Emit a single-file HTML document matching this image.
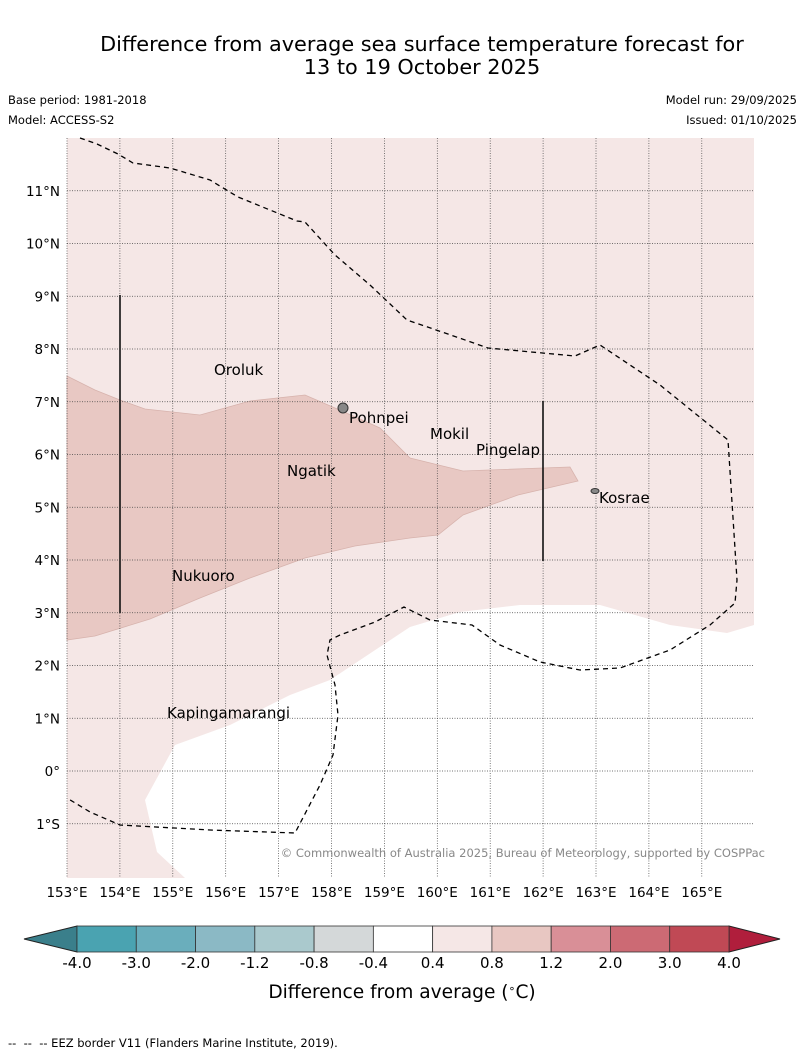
<!DOCTYPE html>
<html><head><meta charset="utf-8"><style>
body{margin:0;background:#fff;font-family:"DejaVu Sans","Liberation Sans",sans-serif;}
svg text{font-family:"DejaVu Sans","Liberation Sans",sans-serif;white-space:pre;}
</style></head><body>
<svg id="chart" width="804" height="1058" xmlns="http://www.w3.org/2000/svg" xml:space="preserve">
<text x="422" y="51" font-size="20.8" text-anchor="middle">Difference from average sea surface temperature forecast for</text>
<text x="422" y="74" font-size="20.8" text-anchor="middle">13 to 19 October 2025</text>
<text x="8" y="104" font-size="11.5">Base period: 1981-2018</text>
<text x="8" y="124" font-size="11.5">Model: ACCESS-S2</text>
<text x="797" y="104" font-size="11.5" text-anchor="end">Model run: 29/09/2025</text>
<text x="797" y="124" font-size="11.5" text-anchor="end">Issued: 01/10/2025</text>
<g id="map">
<rect x="67" y="138" width="687" height="740" fill="#f5e7e6"/>
<polygon fill="#ffffff" points="754,625 727,633 670,625 600,605 520,605 460,612 410,627 330,680 290,695 230,725 175,745 145,800 157,852 185,878 754,878"/>
<polygon fill="#e8c8c3" stroke="#d7b3ad" stroke-width="0.8" points="67,376 95,390 120,400 145,409 200,415 250,401 305,395 335,408 380,428 410,458 463,471 570,467 578,481 518,495 463,515 438,535 410,538 355,546 305,558 250,578 200,598 150,619 95,636 67,640"/>
<g id="grid"></g>
<polyline fill="none" stroke="#000" stroke-width="1.3" stroke-dasharray="5,4" points="80,138 97,144 118,154 133,163 170,168 210,180 238,197 270,210 297,221 305,222 335,255 370,285 407,320 445,333 488,348 575,356 600,345 660,385 728,440 737,580 735,603 710,625 670,650 620,668 580,670 540,662 500,645 472,625 430,620 404,607 375,622 340,635 330,640 327,655 335,685 338,715 333,755 320,785 295,833 210,830 120,825 90,812 67,798"/>
<line x1="120" y1="295" x2="120" y2="613" stroke="#111" stroke-width="1.6"/>
<line x1="543" y1="401" x2="543" y2="561" stroke="#111" stroke-width="1.6"/>
<circle cx="343" cy="408" r="5" fill="#888" stroke="#333"/>
<ellipse cx="595" cy="491" rx="4" ry="2.5" fill="#888" stroke="#333"/>
<text x="214" y="375" font-size="15">Oroluk</text>
<text x="349" y="423" font-size="15">Pohnpei</text>
<text x="430" y="439" font-size="15">Mokil</text>
<text x="476" y="455" font-size="15">Pingelap</text>
<text x="287" y="476" font-size="15">Ngatik</text>
<text x="599" y="503" font-size="15">Kosrae</text>
<text x="172" y="581" font-size="15">Nukuoro</text>
<text x="167" y="718" font-size="15">Kapingamarangi</text>
<text x="765" y="857" font-size="11.5" fill="#888" text-anchor="end">© Commonwealth of Australia 2025, Bureau of Meteorology, supported by COSPPac</text>
</g>
<g id="axes"></g>
<g id="colorbar"></g>
<text x="402" y="998" font-size="18.6" text-anchor="middle">Difference from average (<tspan baseline-shift="super" font-size="11">∘</tspan>C)</text>
<text x="8" y="1047" font-size="11.5">--  --  -- EEZ border V11 (Flanders Marine Institute, 2019).</text>
</svg>
<script>
const lonTicks=[153,154,155,156,157,158,159,160,161,162,163,164,165];
const latTicks=[11,10,9,8,7,6,5,4,3,2,1,0,-1];
const latLabels=["11°N","10°N","9°N","8°N","7°N","6°N","5°N","4°N","3°N","2°N","1°N","0°","1°S"];
const cbBounds=["-4.0","-3.0","-2.0","-1.2","-0.8","-0.4","0.4","0.8","1.2","2.0","3.0","4.0"];
const cbColors=["#4aa3b1","#6aaebc","#8bb9c5","#aac9cd","#d4d8d9","#ffffff","#f5e7e6","#e8c7c2","#d98f97","#cc6a74","#c04955"];
const NS="http://www.w3.org/2000/svg";
const x=lon=>67+(lon-153)*52.9, y=lat=>138+(12-lat)*52.75;
function mk(t,a,p){const e=document.createElementNS(NS,t);for(const k in a)e.setAttribute(k,a[k]);p.appendChild(e);return e;}
const grid=document.getElementById('grid'),axes=document.getElementById('axes'),cb=document.getElementById('colorbar');
lonTicks.forEach(l=>{
 const g=mk('line',{x1:x(l),x2:x(l),y1:138,y2:878,stroke:'#444','stroke-width':0.7,'stroke-dasharray':'1,1.5'},grid);
 
 
 const t=mk('text',{x:x(l),y:897,'font-size':13.5,'text-anchor':'middle'},axes);t.textContent=l+'°E';
 
 
});
latTicks.forEach((l,i)=>{
 const g=mk('line',{x1:67,x2:754,y1:y(l),y2:y(l),stroke:'#444','stroke-width':0.7,'stroke-dasharray':'1,1.5'},grid);
 
 
 const t=mk('text',{x:60,y:y(l)+5,'font-size':13.5,'text-anchor':'end'},axes);t.textContent=latLabels[i];
 
 
});
const cx0=77,cx1=729,cw=(cx1-cx0)/cbColors.length,ct=926,cbt=952;
const lt=mk('polygon',{points:`24,939 ${cx0},${ct} ${cx0},${cbt}`,fill:'#3a7f8b',stroke:'#222'},cb);


const rt=mk('polygon',{points:`780,939 ${cx1},${ct} ${cx1},${cbt}`,fill:'#b01e3c',stroke:'#222'},cb);


cbColors.forEach((c,i)=>{
 const r=mk('rect',{x:cx0+i*cw,y:ct,width:cw,height:cbt-ct,fill:c,stroke:'#333','stroke-width':0.8},cb);
 
 
});
cbBounds.forEach((b,i)=>{
 const t=mk('text',{x:cx0+i*cw,y:968,'font-size':15,'text-anchor':'middle'},cb);t.textContent=b;
 
 
});
</script>
</body></html>
